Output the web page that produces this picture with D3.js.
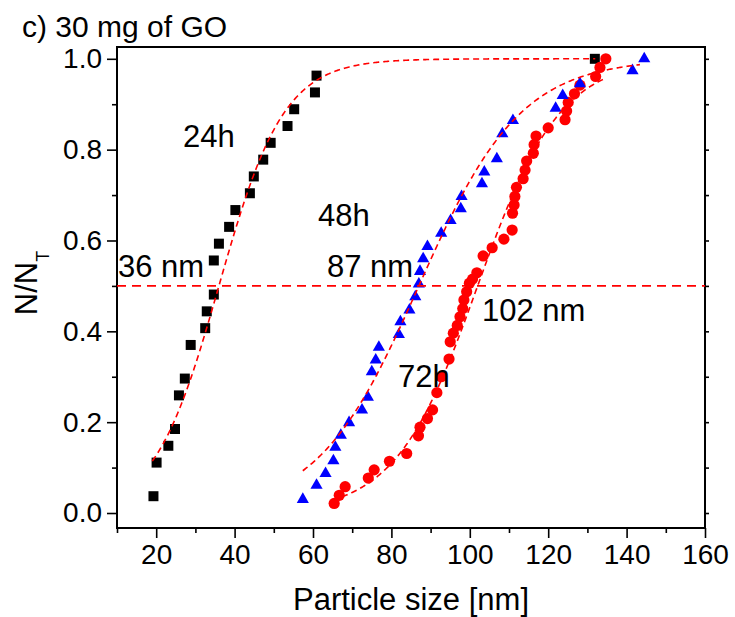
<!DOCTYPE html>
<html>
<head>
<meta charset="utf-8">
<script src="https://cdn.jsdelivr.net/npm/d3@7"></script>
<style>
  html, body { margin: 0; padding: 0; background: #fff; }
  svg { display: block; font-family: "Liberation Sans", Arial, Helvetica, sans-serif; }
</style>
</head>
<body>
<svg id="chart" width="735" height="617"></svg>
<script>
// Cumulative particle-size distributions (N/N_T) after 24 h, 48 h and 72 h.
const sizes24 = [19.3, 20.1, 23.1, 24.8, 25.8, 27.3, 28.8, 32.5, 32.9, 34.7, 34.7, 36.0,
  38.6, 40.2, 43.9, 44.9, 47.3, 49.2, 53.5, 55.2, 60.5, 60.9, 131.9];
const frac24 = [0.037, 0.111, 0.148, 0.185, 0.259, 0.296, 0.370, 0.407, 0.444, 0.481, 0.556, 0.593,
  0.630, 0.667, 0.704, 0.741, 0.778, 0.815, 0.852, 0.889, 0.926, 0.963, 1.0];

const sizes48 = [57.4, 60.9, 63.2, 65.2, 65.7, 67.1, 69.2, 72.5, 74.0, 75.0, 76.0, 76.8,
  81.9, 82.3, 84.6, 86.1, 87.0, 87.3, 88.1, 89.2, 92.7, 95.1, 97.7, 97.9,
  103.1, 103.7, 106.9, 108.3, 111.0, 121.9, 123.7, 128.1, 141.5, 144.5];
const frac48 = [0.030, 0.061, 0.087, 0.115, 0.145, 0.171, 0.199, 0.227, 0.255, 0.311, 0.337, 0.365,
  0.393, 0.421, 0.447, 0.476, 0.504, 0.532, 0.560, 0.587, 0.616, 0.644, 0.670, 0.697,
  0.725, 0.751, 0.780, 0.835, 0.864, 0.891, 0.919, 0.945, 0.974, 1.0];

const sizes72 = [65.4, 66.7, 68.2, 74.1, 75.6, 79.5, 83.9, 86.9, 87.3, 89.2, 90.5, 91.6,
  92.7, 94.7, 95.0, 95.8, 96.8, 97.5, 98.2, 98.5, 99.2, 99.9, 100.7, 101.8,
  103.4, 105.7, 108.7, 110.8, 110.9, 111.3, 111.5, 111.9, 113.6, 114.1, 114.5, 116.2,
  116.4, 116.9, 120.0, 124.3, 124.7, 125.1, 126.7, 128.1, 132.1, 133.2, 134.7];
const frac72 = [0.021, 0.039, 0.058, 0.077, 0.095, 0.114, 0.131, 0.170, 0.189, 0.208, 0.227, 0.265,
  0.300, 0.339, 0.377, 0.396, 0.413, 0.432, 0.450, 0.469, 0.487, 0.506, 0.515, 0.529,
  0.566, 0.584, 0.603, 0.623, 0.660, 0.678, 0.697, 0.717, 0.736, 0.755, 0.775, 0.792,
  0.811, 0.830, 0.848, 0.866, 0.885, 0.904, 0.923, 0.942, 0.961, 0.981, 1.0];

// Logistic fits: centre (median size, nm), width, and the size range each fit spans
const fitCenters = [36, 87, 102];
const fitWidths = [8.3, 13, 10.5];
const fitStart = [19, 57.4, 65];
const fitEnd = [132, 143.4, 134];

const seriesNames = ["24h", "48h", "72h"];
const xTicks = [20, 40, 60, 80, 100, 120, 140, 160];
const xMinorTicks = [10, 30, 50, 70, 90, 110, 130, 150];
const yTicks = [0.0, 0.2, 0.4, 0.6, 0.8, 1.0];
const yMinorTicks = [0.1, 0.3, 0.5, 0.7, 0.9];

const svg = d3.select("#chart");
const plotLeft = 117, plotRight = 705, plotTop = 47, plotBottom = 528;

const x = d3.scaleLinear().domain([10, 160]).range([plotLeft, plotRight]);
const y = d3.scaleLinear().domain([-0.033, 1.026]).range([plotBottom, plotTop]);

const RED = "#ff0000", BLUE = "#0000ff";
const tickFont = 28;

// ---- axes ----
function styleAxis(g) {
  g.select(".domain").remove();
  g.selectAll("line").attr("stroke", "#000").attr("stroke-width", 1.6);
  g.selectAll("text").attr("fill", "#000").attr("font-size", tickFont)
    .attr("font-family", "'Liberation Sans', Arial, sans-serif");
}

svg.append("g").attr("transform", `translate(0,${plotBottom})`)
  .call(d3.axisBottom(x).tickValues(xMinorTicks).tickSize(5).tickFormat(""))
  .call(styleAxis);
svg.append("g").attr("transform", `translate(0,${plotBottom})`)
  .call(d3.axisBottom(x).tickValues(xTicks).tickSize(10).tickPadding(6).tickFormat(d3.format("d")))
  .call(styleAxis);

svg.append("g").attr("transform", `translate(${plotLeft},0)`)
  .call(d3.axisLeft(y).tickValues(yMinorTicks).tickSize(5).tickFormat(""))
  .call(styleAxis);
svg.append("g").attr("transform", `translate(${plotLeft},0)`)
  .call(d3.axisLeft(y).tickValues(yTicks).tickSize(10).tickPadding(5).tickFormat(d3.format(".1f")))
  .call(styleAxis);

svg.append("g").attr("transform", `translate(${plotRight},0)`)
  .call(d3.axisRight(y).tickValues(yTicks.concat(yMinorTicks)).tickSize(4).tickFormat(""))
  .call(styleAxis);

// frame
svg.append("rect")
  .attr("x", plotLeft).attr("y", plotTop)
  .attr("width", plotRight - plotLeft).attr("height", plotBottom - plotTop)
  .attr("fill", "none").attr("stroke", "#000").attr("stroke-width", 2);

// ---- markers ----
const plot = svg.append("g");

plot.append("g").selectAll("path")
  .data(d3.zip(sizes24, frac24))
  .join("path")
  .attr("d", d3.symbol(d3.symbolSquare, 100))
  .attr("transform", d => `translate(${x(d[0])},${y(d[1])})`)
  .attr("fill", "#000");

plot.append("g").selectAll("circle")
  .data(d3.zip(sizes72, frac72))
  .join("circle")
  .attr("cx", d => x(d[0])).attr("cy", d => y(d[1]))
  .attr("r", 5.6)
  .attr("fill", RED);

plot.append("g").selectAll("path")
  .data(d3.zip(sizes48, frac48))
  .join("path")
  .attr("d", d3.symbol(d3.symbolTriangle, 64))
  .attr("transform", d => `translate(${x(d[0])},${y(d[1])})`)
  .attr("fill", BLUE);

// ---- median line and logistic fits ----
plot.append("line")
  .attr("x1", x(10)).attr("x2", x(160))
  .attr("y1", y(0.5)).attr("y2", y(0.5))
  .attr("stroke", RED).attr("stroke-width", 1.6)
  .attr("stroke-dasharray", "9,6");

const fitLine = d3.line().x(d => x(d[0])).y(d => y(d[1]));
fitCenters.forEach((c, i) => {
  const w = fitWidths[i];
  const pts = d3.range(fitStart[i], fitEnd[i] + 0.01, 0.25)
    .map(s => [s, 1 / (1 + Math.exp(-(s - c) / w))]);
  plot.append("path")
    .attr("d", fitLine(pts))
    .attr("fill", "none")
    .attr("stroke", RED).attr("stroke-width", 1.6)
    .attr("stroke-dasharray", "6,4");
});

// ---- annotations ----
const annFont = 31;
const notes = [
  { t: seriesNames[0], x: 183, y: 147 },
  { t: seriesNames[1], x: 318, y: 226 },
  { t: seriesNames[2], x: 398, y: 387 },
  { t: `${fitCenters[0]} nm`, x: 118, y: 277 },
  { t: `${fitCenters[1]} nm`, x: 327, y: 277 },
  { t: `${fitCenters[2]} nm`, x: 482, y: 321 }
];
svg.append("g").selectAll("text")
  .data(notes)
  .join("text")
  .attr("x", d => d.x).attr("y", d => d.y)
  .attr("font-size", annFont)
  .attr("fill", "#000")
  .text(d => d.t);

// ---- titles ----
svg.append("text")
  .attr("x", 22).attr("y", 37)
  .attr("font-size", 30)
  .text("c) 30 mg of GO");

svg.append("text")
  .attr("x", (plotLeft + plotRight) / 2).attr("y", 610)
  .attr("text-anchor", "middle")
  .attr("font-size", 31)
  .text("Particle size [nm]");

const yLab = svg.append("text")
  .attr("transform", "translate(37,283) rotate(-90)")
  .attr("text-anchor", "middle")
  .attr("font-size", 31);
yLab.append("tspan").text("N/N");
yLab.append("tspan").attr("dy", 12).attr("font-size", 18).text("T");
</script>
</body>
</html>
